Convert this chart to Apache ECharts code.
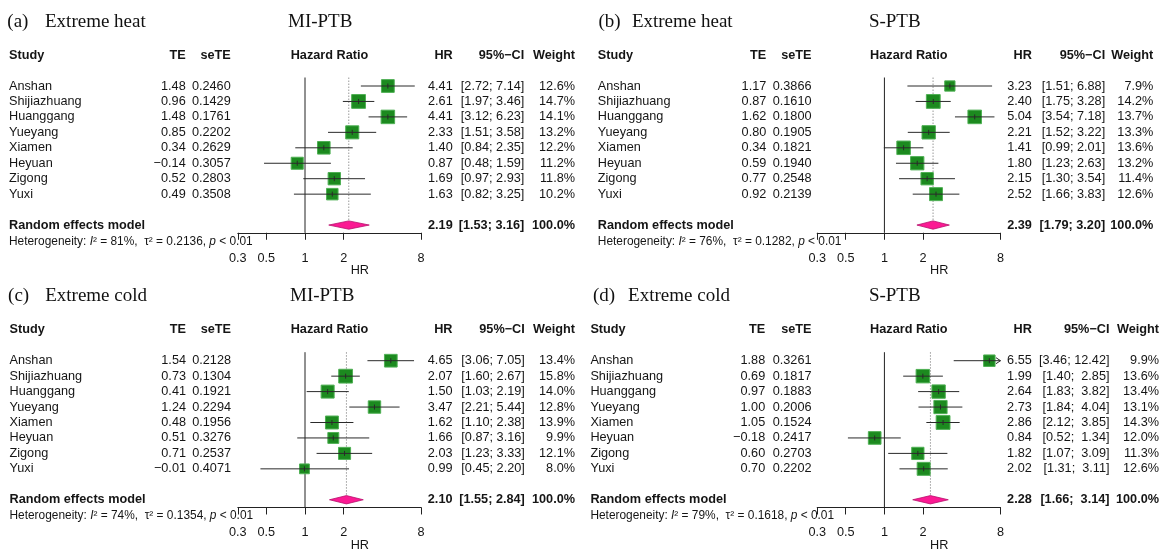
<!DOCTYPE html>
<html><head><meta charset="utf-8">
<script src="https://cdn.jsdelivr.net/npm/echarts@6/dist/echarts.min.js"></script>
<style>html,body{margin:0;padding:0;background:#fff}#c{width:1162px;height:551px}</style>
</head><body><div id="c"></div>
<script>
// ---------- data ----------
const studies = ['Anshan','Shijiazhuang','Huanggang','Yueyang','Xiamen','Heyuan','Zigong','Yuxi'];
const tickValues = [0.3, 0.5, 1, 2, 8];
const tickLabels = ['0.3', '0.5', '1', '2', '8'];
const panelTags = ['(a)', '(b)', '(c)', '(d)'];
const exposures = ['Extreme heat', 'Extreme heat', 'Extreme cold', 'Extreme cold'];
const outcomes = ['MI-PTB', 'S-PTB', 'MI-PTB', 'S-PTB'];

// (a) Extreme heat, MI-PTB
const aTE = [1.48, 0.96, 1.48, 0.85, 0.34, -0.14, 0.52, 0.49];
const aSeTE = [0.2460, 0.1429, 0.1761, 0.2202, 0.2629, 0.3057, 0.2803, 0.3508];
const aHR = [4.41, 2.61, 4.41, 2.33, 1.40, 0.87, 1.69, 1.63];
const aLower = [2.72, 1.97, 3.12, 1.51, 0.84, 0.48, 0.97, 0.82];
const aUpper = [7.14, 3.46, 6.23, 3.58, 2.35, 1.59, 2.93, 3.25];
const aWeight = [12.6, 14.7, 14.1, 13.2, 12.2, 11.2, 11.8, 10.2];
const aPooled = [2.19, 1.53, 3.16];
const aHet = [81, 0.2136, '< 0.01'];

// (b) Extreme heat, S-PTB
const bTE = [1.17, 0.87, 1.62, 0.80, 0.34, 0.59, 0.77, 0.92];
const bSeTE = [0.3866, 0.1610, 0.1800, 0.1905, 0.1821, 0.1940, 0.2548, 0.2139];
const bHR = [3.23, 2.40, 5.04, 2.21, 1.41, 1.80, 2.15, 2.52];
const bLower = [1.51, 1.75, 3.54, 1.52, 0.99, 1.23, 1.30, 1.66];
const bUpper = [6.88, 3.28, 7.18, 3.22, 2.01, 2.63, 3.54, 3.83];
const bWeight = [7.9, 14.2, 13.7, 13.3, 13.6, 13.2, 11.4, 12.6];
const bPooled = [2.39, 1.79, 3.20];
const bHet = [76, 0.1282, '< 0.01'];

// (c) Extreme cold, MI-PTB
const cTE = [1.54, 0.73, 0.41, 1.24, 0.48, 0.51, 0.71, -0.01];
const cSeTE = [0.2128, 0.1304, 0.1921, 0.2294, 0.1956, 0.3276, 0.2537, 0.4071];
const cHR = [4.65, 2.07, 1.50, 3.47, 1.62, 1.66, 2.03, 0.99];
const cLower = [3.06, 1.60, 1.03, 2.21, 1.10, 0.87, 1.23, 0.45];
const cUpper = [7.05, 2.67, 2.19, 5.44, 2.38, 3.16, 3.33, 2.20];
const cWeight = [13.4, 15.8, 14.0, 12.8, 13.9, 9.9, 12.1, 8.0];
const cPooled = [2.10, 1.55, 2.84];
const cHet = [74, 0.1354, '< 0.01'];

// (d) Extreme cold, S-PTB
const dTE = [1.88, 0.69, 0.97, 1.00, 1.05, -0.18, 0.60, 0.70];
const dSeTE = [0.3261, 0.1817, 0.1883, 0.2006, 0.1524, 0.2417, 0.2703, 0.2202];
const dHR = [6.55, 1.99, 2.64, 2.73, 2.86, 0.84, 1.82, 2.02];
const dLower = [3.46, 1.40, 1.83, 1.84, 2.12, 0.52, 1.07, 1.31];
const dUpper = [12.42, 2.85, 3.82, 4.04, 3.85, 1.34, 3.09, 3.11];
const dWeight = [9.9, 13.6, 13.4, 13.1, 14.3, 12.0, 11.3, 12.6];
const dPooled = [2.28, 1.66, 3.14];
const dHet = [79, 0.1618, '< 0.01'];

const panels = [
  {te: aTE, se: aSeTE, hr: aHR, lo: aLower, hi: aUpper, w: aWeight, pooled: aPooled, het: aHet},
  {te: bTE, se: bSeTE, hr: bHR, lo: bLower, hi: bUpper, w: bWeight, pooled: bPooled, het: bHet},
  {te: cTE, se: cSeTE, hr: cHR, lo: cLower, hi: cUpper, w: cWeight, pooled: cPooled, het: cHet},
  {te: dTE, se: dSeTE, hr: dHR, lo: dLower, hi: dUpper, w: dWeight, pooled: dPooled, het: dHet}
];

// ---------- layout ----------
const ROW_H = 15.45;
const Y_MIN = -0.55, Y_MAX = 9.5;
const X_MIN = 0.3, X_MAX = 8;
const POOL_ROW = 9, HET_ROW = 10.05, HEAD_ROW = -2, TITLE_ROW = -4.16;
const layouts = [
  {y0: 86, plotL: 237.8, plotR: 421.1, studyX: 9, tagX: 7.3, expX: 45, outX: 288, teR: 185.7, seR: 230.7, hrR: 452.7, ciR: 524.3, wR: 575},
  {y0: 86, plotL: 817.2, plotR: 1000.5, studyX: 597.8, tagX: 598.5, expX: 631.9, outX: 868.9, teR: 766.3, seR: 811.5, hrR: 1031.9, ciR: 1105.2, wR: 1153.3},
  {y0: 360.7, plotL: 237.8, plotR: 421.1, studyX: 9.5, tagX: 8.1, expX: 45.2, outX: 290, teR: 186, seR: 231, hrR: 452.5, ciR: 524.8, wR: 575},
  {y0: 360.7, plotL: 817.2, plotR: 1000.5, studyX: 590.4, tagX: 593, expX: 628.1, outX: 868.9, teR: 765.2, seR: 811.5, hrR: 1031.8, ciR: 1109.5, wR: 1159}
];
const SANS = '"Liberation Sans", Arial, Helvetica, sans-serif';
const SERIF = '"Liberation Serif", "Times New Roman", serif';
const FS = 12.7;
const TXT = '#151515';
const SQ_FILL = '#1c8a1f', SQ_EDGE = '#4fb054';
const DIA_FILL = '#fb1a93', DIA_EDGE = '#b8106d';

function num(v, d) {
  const s = Math.abs(v).toFixed(d);
  return (v < 0 ? '\u2212' : '') + s;
}

const chart = echarts.init(document.getElementById('c'), null, {renderer: 'canvas'});

const grids = [], xAxes = [], yAxes = [], series = [];
panels.forEach((p, gi) => {
  const L = layouts[gi];
  grids.push({left: L.plotL, width: L.plotR - L.plotL, top: L.y0 + Y_MIN * ROW_H,
    height: (Y_MAX - Y_MIN) * ROW_H, containLabel: false, outerBoundsMode: 'none'});
  xAxes.push({
    type: 'log', logBase: 2, min: X_MIN, max: X_MAX, gridIndex: gi, position: 'bottom',
    splitLine: {show: false}, minorTick: {show: false},
    axisLine: {show: true, onZero: false, lineStyle: {color: '#222', width: 1}},
    axisTick: {show: true, inside: false, length: 7, customValues: tickValues, lineStyle: {color: '#222', width: 1}},
    axisLabel: {show: true, customValues: tickValues, margin: 19, color: TXT, fontFamily: SANS, fontSize: FS,
      showMinLabel: true, showMaxLabel: true, hideOverlap: false,
      formatter: v => {
        let best = 0;
        tickValues.forEach((t, k) => { if (Math.abs(t - v) < Math.abs(tickValues[best] - v)) best = k; });
        return tickLabels[best];
      }}
  });
  yAxes.push({type: 'value', gridIndex: gi, min: Y_MIN, max: Y_MAX, inverse: true, show: false});

  const maxW = Math.max.apply(null, p.w);
  // reference line at HR = 1
  series.push({type: 'line', xAxisIndex: gi, yAxisIndex: gi, data: [[1, Y_MIN], [1, Y_MAX]],
    symbol: 'none', silent: true, z: 1, lineStyle: {color: '#222', width: 1}});
  // dotted line at pooled estimate
  series.push({type: 'line', xAxisIndex: gi, yAxisIndex: gi, data: [[p.pooled[0], Y_MIN], [p.pooled[0], POOL_ROW]],
    symbol: 'none', silent: true, z: 1, lineStyle: {color: '#9a9a9a', width: 1, type: [1.5, 1.5]}});
  // study squares + CIs
  series.push({
    type: 'custom', xAxisIndex: gi, yAxisIndex: gi, z: 3, silent: true,
    encode: {x: [0, 1, 2], y: 4},
    data: p.hr.map((h, i) => [h, p.lo[i], p.hi[i], p.w[i], i]),
    renderItem: (params, api) => {
      const h = api.value(0), lo = api.value(1), hi = api.value(2), w = api.value(3), row = api.value(4);
      const c = api.coord([h, row]);
      const l = api.coord([Math.max(lo, X_MIN), row]);
      const r = api.coord([Math.min(hi, X_MAX), row]);
      const side = 13.8 * Math.sqrt(w / maxW);
      const ch = [
        {type: 'rect', shape: {x: c[0] - side / 2, y: c[1] - side / 2, width: side, height: side},
          style: {fill: SQ_FILL, stroke: SQ_EDGE, lineWidth: 1}},
        {type: 'line', shape: {x1: l[0], y1: l[1], x2: r[0], y2: r[1]}, style: {stroke: '#2a2a2a', lineWidth: 1}},
        {type: 'line', shape: {x1: c[0], y1: c[1] - 2.5, x2: c[0], y2: c[1] + 2.5}, style: {stroke: '#2a2a2a', lineWidth: 1}}
      ];
      if (hi > X_MAX) {
        ch.push({type: 'polyline', shape: {points: [[r[0] - 4.5, r[1] - 3], [r[0], r[1]], [r[0] - 4.5, r[1] + 3]]},
          style: {stroke: '#2a2a2a', lineWidth: 1, fill: null}});
      }
      return {type: 'group', children: ch};
    }
  });
  // pooled diamond
  series.push({
    type: 'custom', xAxisIndex: gi, yAxisIndex: gi, z: 4, silent: true,
    encode: {x: [0, 1, 2], y: 3},
    data: [[p.pooled[0], p.pooled[1], p.pooled[2], POOL_ROW]],
    renderItem: (params, api) => {
      const h = api.value(0), lo = api.value(1), hi = api.value(2), row = api.value(3);
      const hh = 0.27;
      return {type: 'polygon', shape: {points: [
        api.coord([lo, row]), api.coord([h, row - hh]), api.coord([hi, row]), api.coord([h, row + hh])]},
        style: {fill: DIA_FILL, stroke: DIA_EDGE, lineWidth: 0.8}};
    }
  });
});

chart.setOption({
  animation: false,
  backgroundColor: '#fff',
  grid: grids, xAxis: xAxes, yAxis: yAxes, series: series
});

// ---------- table text ----------
const graphics = [];
function txt(x, y, text, opt) {
  opt = opt || {};
  graphics.push({type: 'text', x: x, y: y, silent: true, z: 10, style: Object.assign({
    text: text, fill: TXT, fontFamily: SANS, fontSize: FS, fontWeight: 'normal',
    textAlign: 'left', textVerticalAlign: 'middle'}, opt)});
}
panels.forEach((p, gi) => {
  const L = layouts[gi];
  const yOf = r => chart.convertToPixel({gridIndex: gi}, [1, r])[1];
  // titles
  const ty = yOf(TITLE_ROW);
  txt(L.tagX, ty, panelTags[gi], {fontFamily: SERIF, fontSize: 19, fill: '#111'});
  txt(L.expX, ty, exposures[gi], {fontFamily: SERIF, fontSize: 19, fill: '#111'});
  txt(L.outX, ty, outcomes[gi], {fontFamily: SERIF, fontSize: 19, fill: '#111'});
  // headers
  const hy = yOf(HEAD_ROW);
  const B = {fontWeight: 'bold'};
  txt(L.studyX, hy, 'Study', B);
  txt(L.teR, hy, 'TE', Object.assign({textAlign: 'right'}, B));
  txt(L.seR, hy, 'seTE', Object.assign({textAlign: 'right'}, B));
  txt((L.plotL + L.plotR) / 2, hy, 'Hazard Ratio', Object.assign({textAlign: 'center'}, B));
  txt(L.hrR, hy, 'HR', Object.assign({textAlign: 'right'}, B));
  txt(L.ciR, hy, '95%\u2212CI', Object.assign({textAlign: 'right'}, B));
  txt(L.wR, hy, 'Weight', Object.assign({textAlign: 'right'}, B));
  // CI formatting with R-style padding
  const allLo = p.lo.concat([p.pooled[1]]).map(v => v.toFixed(2));
  const allHi = p.hi.concat([p.pooled[2]]).map(v => v.toFixed(2));
  const wLo = Math.max.apply(null, allLo.map(s => s.length));
  const wHi = Math.max.apply(null, allHi.map(s => s.length));
  const ci = k => '[' + allLo[k].padStart(wLo, ' ') + '; ' + allHi[k].padStart(wHi, ' ') + ']';
  studies.forEach((s, i) => {
    const y = yOf(i);
    txt(L.studyX, y, s);
    txt(L.teR, y, num(p.te[i], 2), {textAlign: 'right'});
    txt(L.seR, y, p.se[i].toFixed(4), {textAlign: 'right'});
    txt(L.hrR, y, p.hr[i].toFixed(2), {textAlign: 'right'});
    txt(L.ciR, y, ci(i), {textAlign: 'right'});
    txt(L.wR, y, p.w[i].toFixed(1) + '%', {textAlign: 'right'});
  });
  const py = yOf(POOL_ROW);
  txt(L.studyX, py, 'Random effects model', B);
  txt(L.hrR, py, p.pooled[0].toFixed(2), Object.assign({textAlign: 'right'}, B));
  txt(L.ciR, py, ci(studies.length), Object.assign({textAlign: 'right'}, B));
  txt(L.wR, py, '100.0%', Object.assign({textAlign: 'right'}, B));
  // heterogeneity
  txt(L.studyX, yOf(HET_ROW),
    'Heterogeneity: {it|I}\u00b2 = ' + p.het[0] + '%,  \u03c4\u00b2 = ' + p.het[1].toFixed(4) + ', {it|p} ' + p.het[2],
    {fontSize: 11.9, rich: {it: {fontStyle: 'italic', fontFamily: SANS, fontSize: 11.9, fill: TXT}}});
  // x axis title
  txt(L.plotL + 122, yOf(Y_MAX) + 38, 'HR', {textAlign: 'center'});
});
chart.setOption({graphic: graphics});
</script>
</body></html>
